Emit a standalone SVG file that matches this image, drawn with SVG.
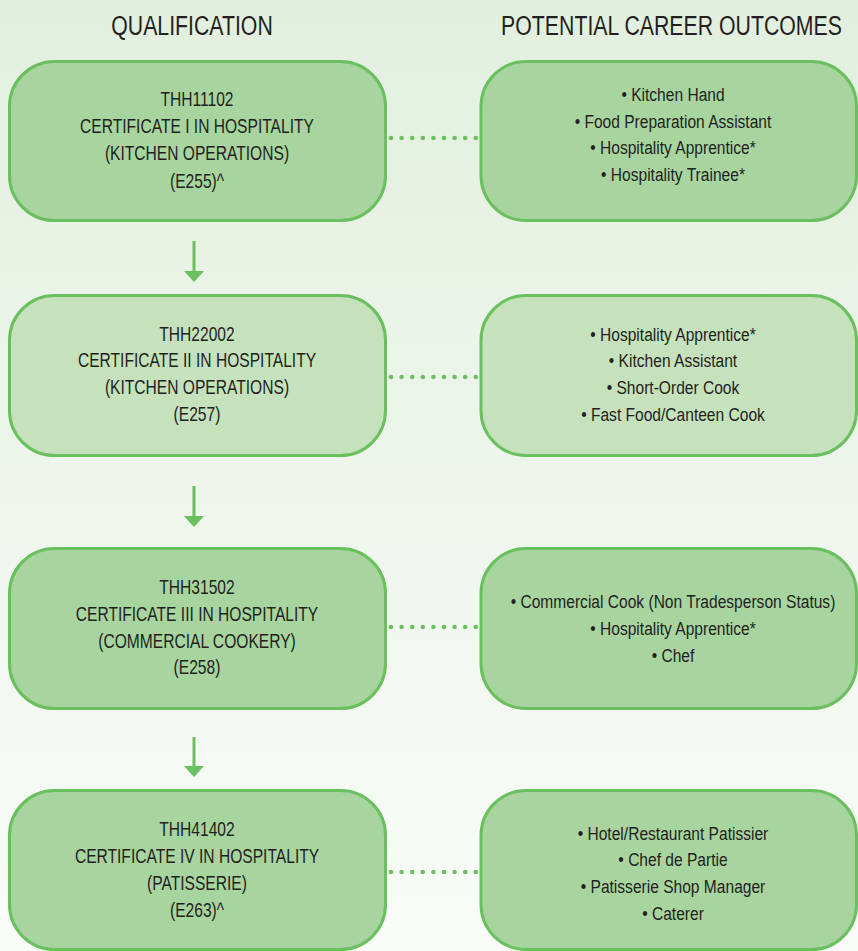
<svg xmlns="http://www.w3.org/2000/svg" width="858" height="951" viewBox="0 0 858 951">
<defs>
<linearGradient id="bg" x1="0" y1="0" x2="0" y2="1">
<stop offset="0" stop-color="#e2efdf"/>
<stop offset="1" stop-color="#f9fcf8"/>
</linearGradient>
<style>
.box{fill:#a8d59f;stroke:#6abf5e;stroke-width:3}
.box.light{fill:#c6e2bc}
.t{font-family:"Liberation Sans",Arial,sans-serif;font-size:19px;fill:#231f20;text-anchor:middle}
.q{font-size:20px}
.h{font-family:"Liberation Sans",Arial,sans-serif;font-size:28px;fill:#231f20;text-anchor:middle}
.dot{fill:#6abf5e}
.arr{stroke:#6abf5e;stroke-width:3;fill:none}
.head{fill:#6abf5e}
</style>
</defs>
<rect x="0" y="0" width="858" height="951" fill="url(#bg)"/>
<g id="headers">
<text class="h" transform="translate(192,35) scale(0.76,1)">QUALIFICATION</text>
<text class="h" transform="translate(671.5,35) scale(0.76,1)">POTENTIAL CAREER OUTCOMES</text>
</g>
<g id="connectors">
<g id="dots1" class="dot">
<circle cx="391" cy="138" r="2.3"/><circle cx="401.6" cy="138" r="2.3"/><circle cx="412.2" cy="138" r="2.3"/><circle cx="422.8" cy="138" r="2.3"/><circle cx="433.4" cy="138" r="2.3"/><circle cx="444" cy="138" r="2.3"/><circle cx="454.6" cy="138" r="2.3"/><circle cx="465.2" cy="138" r="2.3"/><circle cx="475.8" cy="138" r="2.3"/>
</g>
<g id="dots2" class="dot">
<circle cx="391" cy="377" r="2.3"/><circle cx="401.6" cy="377" r="2.3"/><circle cx="412.2" cy="377" r="2.3"/><circle cx="422.8" cy="377" r="2.3"/><circle cx="433.4" cy="377" r="2.3"/><circle cx="444" cy="377" r="2.3"/><circle cx="454.6" cy="377" r="2.3"/><circle cx="465.2" cy="377" r="2.3"/><circle cx="475.8" cy="377" r="2.3"/>
</g>
<g id="dots3" class="dot">
<circle cx="391" cy="627" r="2.3"/><circle cx="401.6" cy="627" r="2.3"/><circle cx="412.2" cy="627" r="2.3"/><circle cx="422.8" cy="627" r="2.3"/><circle cx="433.4" cy="627" r="2.3"/><circle cx="444" cy="627" r="2.3"/><circle cx="454.6" cy="627" r="2.3"/><circle cx="465.2" cy="627" r="2.3"/><circle cx="475.8" cy="627" r="2.3"/>
</g>
<g id="dots4" class="dot">
<circle cx="391" cy="872" r="2.3"/><circle cx="401.6" cy="872" r="2.3"/><circle cx="412.2" cy="872" r="2.3"/><circle cx="422.8" cy="872" r="2.3"/><circle cx="433.4" cy="872" r="2.3"/><circle cx="444" cy="872" r="2.3"/><circle cx="454.6" cy="872" r="2.3"/><circle cx="465.2" cy="872" r="2.3"/><circle cx="475.8" cy="872" r="2.3"/>
</g>
<g id="arrow1"><line class="arr" x1="194" y1="241" x2="194" y2="273"/><polygon class="head" points="184,271 204,271 194,282"/></g>
<g id="arrow2"><line class="arr" x1="194" y1="486" x2="194" y2="518"/><polygon class="head" points="184,516 204,516 194,527"/></g>
<g id="arrow3"><line class="arr" x1="194" y1="737" x2="194" y2="768"/><polygon class="head" points="184,766 204,766 194,777"/></g>
</g>
<g id="q1">
<rect class="box" x="9.5" y="61.5" width="376" height="159" rx="45"/>
<g transform="translate(197,0) scale(0.78,1)">
<text class="t q" x="0" y="106">THH11102</text>
<text class="t q" x="0" y="133">CERTIFICATE I IN HOSPITALITY</text>
<text class="t q" x="0" y="160">(KITCHEN OPERATIONS)</text>
<text class="t q" x="0" y="188">(E255)^</text>
</g>
</g>
<g id="c1">
<rect class="box" x="481" y="61.5" width="375.5" height="159" rx="45"/>
<g transform="translate(673,0) scale(0.82,1)">
<text class="t" x="0" y="101">• Kitchen Hand</text>
<text class="t" x="0" y="128">• Food Preparation Assistant</text>
<text class="t" x="0" y="154">• Hospitality Apprentice*</text>
<text class="t" x="0" y="181">• Hospitality Trainee*</text>
</g>
</g>
<g id="q2">
<rect class="box light" x="9.5" y="295.5" width="376" height="160" rx="45"/>
<g transform="translate(197,0) scale(0.78,1)">
<text class="t q" x="0" y="341">THH22002</text>
<text class="t q" x="0" y="367">CERTIFICATE II IN HOSPITALITY</text>
<text class="t q" x="0" y="394">(KITCHEN OPERATIONS)</text>
<text class="t q" x="0" y="421">(E257)</text>
</g>
</g>
<g id="c2">
<rect class="box light" x="481" y="295.5" width="375.5" height="160" rx="45"/>
<g transform="translate(673,0) scale(0.82,1)">
<text class="t" x="0" y="341">• Hospitality Apprentice*</text>
<text class="t" x="0" y="367">• Kitchen Assistant</text>
<text class="t" x="0" y="394">• Short-Order Cook</text>
<text class="t" x="0" y="421">• Fast Food/Canteen Cook</text>
</g>
</g>
<g id="q3">
<rect class="box" x="9.5" y="548.5" width="376" height="160" rx="45"/>
<g transform="translate(197,0) scale(0.78,1)">
<text class="t q" x="0" y="594">THH31502</text>
<text class="t q" x="0" y="621">CERTIFICATE III IN HOSPITALITY</text>
<text class="t q" x="0" y="648">(COMMERCIAL COOKERY)</text>
<text class="t q" x="0" y="674">(E258)</text>
</g>
</g>
<g id="c3">
<rect class="box" x="481" y="548.5" width="375.5" height="160" rx="45"/>
<g transform="translate(673,0) scale(0.82,1)">
<text class="t" x="0" y="608">• Commercial Cook (Non Tradesperson Status)</text>
<text class="t" x="0" y="635">• Hospitality Apprentice*</text>
<text class="t" x="0" y="662">• Chef</text>
</g>
</g>
<g id="q4">
<rect class="box" x="9.5" y="790.5" width="376" height="159" rx="45"/>
<g transform="translate(197,0) scale(0.78,1)">
<text class="t q" x="0" y="836">THH41402</text>
<text class="t q" x="0" y="863">CERTIFICATE IV IN HOSPITALITY</text>
<text class="t q" x="0" y="890">(PATISSERIE)</text>
<text class="t q" x="0" y="917">(E263)^</text>
</g>
</g>
<g id="c4">
<rect class="box" x="481" y="790.5" width="375.5" height="159" rx="45"/>
<g transform="translate(673,0) scale(0.82,1)">
<text class="t" x="0" y="840">• Hotel/Restaurant Patissier</text>
<text class="t" x="0" y="866">• Chef de Partie</text>
<text class="t" x="0" y="893">• Patisserie Shop Manager</text>
<text class="t" x="0" y="920">• Caterer</text>
</g>
</g>
</svg>
